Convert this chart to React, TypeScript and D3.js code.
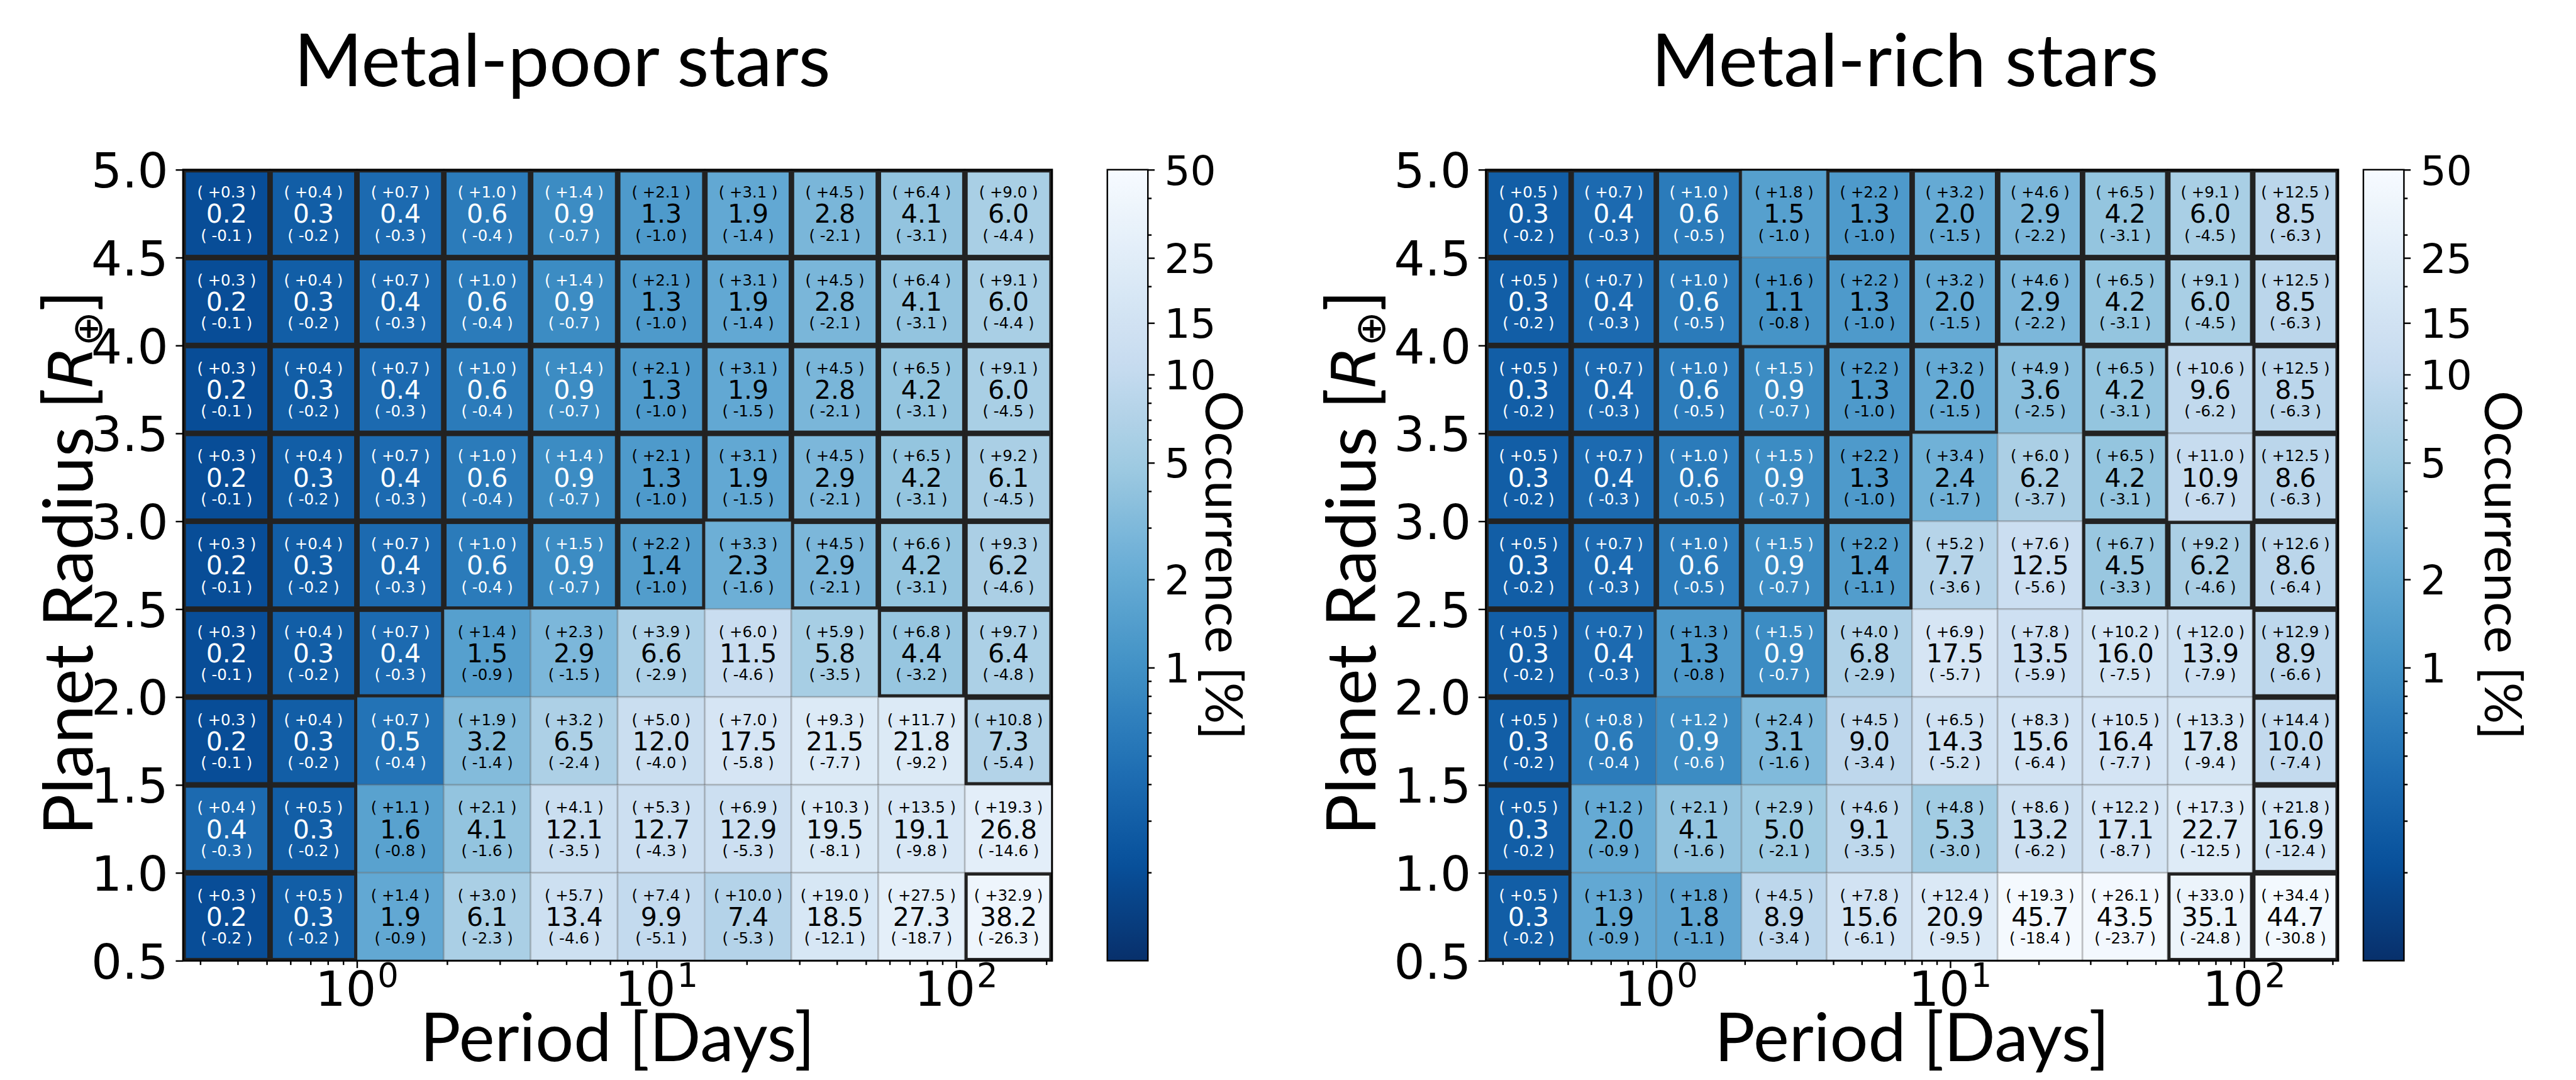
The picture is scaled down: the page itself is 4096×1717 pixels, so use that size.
import React, { useRef, useEffect } from 'react';
import * as d3 from 'd3';

// period bin edges [days] (log spaced) and radius bin edges [R_earth]
const periodEdges = [0.263, 0.513, 1, 1.95, 3.8, 7.42, 14.5, 28.2, 55, 107, 209];
const radiusEdges = [0.5, 1.0, 1.5, 2.0, 2.5, 3.0, 3.5, 4.0, 4.5, 5.0];
const periodMajor = [1, 10, 100];
const periodMajorExp = ['0', '1', '2'];
const periodMinor = [0.3, 0.4, 0.5, 0.6, 0.7, 0.8, 0.9, 2, 3, 4, 5, 6, 7, 8, 9, 20, 30, 40, 50, 60, 70, 80, 90, 200];
const cbarTicks = [1, 2, 5, 10, 15, 25, 50];
const cbarMinor = [0.2, 0.3, 0.4, 0.5, 0.6, 0.7, 0.8, 0.9, 3, 4, 6, 7, 8, 9, 20, 30, 40];

// rows go from the top bin (4.5-5.0) down to the bottom bin (0.5-1.0)
const poorValues = [
  [0.2, 0.3, 0.4, 0.6, 0.9, 1.3, 1.9, 2.8, 4.1, 6.0],
  [0.2, 0.3, 0.4, 0.6, 0.9, 1.3, 1.9, 2.8, 4.1, 6.0],
  [0.2, 0.3, 0.4, 0.6, 0.9, 1.3, 1.9, 2.8, 4.2, 6.0],
  [0.2, 0.3, 0.4, 0.6, 0.9, 1.3, 1.9, 2.9, 4.2, 6.1],
  [0.2, 0.3, 0.4, 0.6, 0.9, 1.4, 2.3, 2.9, 4.2, 6.2],
  [0.2, 0.3, 0.4, 1.5, 2.9, 6.6, 11.5, 5.8, 4.4, 6.4],
  [0.2, 0.3, 0.5, 3.2, 6.5, 12.0, 17.5, 21.5, 21.8, 7.3],
  [0.4, 0.3, 1.6, 4.1, 12.1, 12.7, 12.9, 19.5, 19.1, 26.8],
  [0.2, 0.3, 1.9, 6.1, 13.4, 9.9, 7.4, 18.5, 27.3, 38.2],
];
const poorPlus = [
  [0.3, 0.4, 0.7, 1.0, 1.4, 2.1, 3.1, 4.5, 6.4, 9.0],
  [0.3, 0.4, 0.7, 1.0, 1.4, 2.1, 3.1, 4.5, 6.4, 9.1],
  [0.3, 0.4, 0.7, 1.0, 1.4, 2.1, 3.1, 4.5, 6.5, 9.1],
  [0.3, 0.4, 0.7, 1.0, 1.4, 2.1, 3.1, 4.5, 6.5, 9.2],
  [0.3, 0.4, 0.7, 1.0, 1.5, 2.2, 3.3, 4.5, 6.6, 9.3],
  [0.3, 0.4, 0.7, 1.4, 2.3, 3.9, 6.0, 5.9, 6.8, 9.7],
  [0.3, 0.4, 0.7, 1.9, 3.2, 5.0, 7.0, 9.3, 11.7, 10.8],
  [0.4, 0.5, 1.1, 2.1, 4.1, 5.3, 6.9, 10.3, 13.5, 19.3],
  [0.3, 0.5, 1.4, 3.0, 5.7, 7.4, 10.0, 19.0, 27.5, 32.9],
];
const poorMinus = [
  [0.1, 0.2, 0.3, 0.4, 0.7, 1.0, 1.4, 2.1, 3.1, 4.4],
  [0.1, 0.2, 0.3, 0.4, 0.7, 1.0, 1.4, 2.1, 3.1, 4.4],
  [0.1, 0.2, 0.3, 0.4, 0.7, 1.0, 1.5, 2.1, 3.1, 4.5],
  [0.1, 0.2, 0.3, 0.4, 0.7, 1.0, 1.5, 2.1, 3.1, 4.5],
  [0.1, 0.2, 0.3, 0.4, 0.7, 1.0, 1.6, 2.1, 3.1, 4.6],
  [0.1, 0.2, 0.3, 0.9, 1.5, 2.9, 4.6, 3.5, 3.2, 4.8],
  [0.1, 0.2, 0.4, 1.4, 2.4, 4.0, 5.8, 7.7, 9.2, 5.4],
  [0.3, 0.2, 0.8, 1.6, 3.5, 4.3, 5.3, 8.1, 9.8, 14.6],
  [0.2, 0.2, 0.9, 2.3, 4.6, 5.1, 5.3, 12.1, 18.7, 26.3],
];
// 1 = cell outlined with a thick dark edge
const poorOutlined = [
  '1111111111',
  '1111111111',
  '1111111111',
  '1111111111',
  '1111110111',
  '1110000011',
  '1100000001',
  '1100000000',
  '1100000001',
];

const richValues = [
  [0.3, 0.4, 0.6, 1.5, 1.3, 2.0, 2.9, 4.2, 6.0, 8.5],
  [0.3, 0.4, 0.6, 1.1, 1.3, 2.0, 2.9, 4.2, 6.0, 8.5],
  [0.3, 0.4, 0.6, 0.9, 1.3, 2.0, 3.6, 4.2, 9.6, 8.5],
  [0.3, 0.4, 0.6, 0.9, 1.3, 2.4, 6.2, 4.2, 10.9, 8.6],
  [0.3, 0.4, 0.6, 0.9, 1.4, 7.7, 12.5, 4.5, 6.2, 8.6],
  [0.3, 0.4, 1.3, 0.9, 6.8, 17.5, 13.5, 16.0, 13.9, 8.9],
  [0.3, 0.6, 0.9, 3.1, 9.0, 14.3, 15.6, 16.4, 17.8, 10.0],
  [0.3, 2.0, 4.1, 5.0, 9.1, 5.3, 13.2, 17.1, 22.7, 16.9],
  [0.3, 1.9, 1.8, 8.9, 15.6, 20.9, 45.7, 43.5, 35.1, 44.7],
];
const richPlus = [
  [0.5, 0.7, 1.0, 1.8, 2.2, 3.2, 4.6, 6.5, 9.1, 12.5],
  [0.5, 0.7, 1.0, 1.6, 2.2, 3.2, 4.6, 6.5, 9.1, 12.5],
  [0.5, 0.7, 1.0, 1.5, 2.2, 3.2, 4.9, 6.5, 10.6, 12.5],
  [0.5, 0.7, 1.0, 1.5, 2.2, 3.4, 6.0, 6.5, 11.0, 12.5],
  [0.5, 0.7, 1.0, 1.5, 2.2, 5.2, 7.6, 6.7, 9.2, 12.6],
  [0.5, 0.7, 1.3, 1.5, 4.0, 6.9, 7.8, 10.2, 12.0, 12.9],
  [0.5, 0.8, 1.2, 2.4, 4.5, 6.5, 8.3, 10.5, 13.3, 14.4],
  [0.5, 1.2, 2.1, 2.9, 4.6, 4.8, 8.6, 12.2, 17.3, 21.8],
  [0.5, 1.3, 1.8, 4.5, 7.8, 12.4, 19.3, 26.1, 33.0, 34.4],
];
const richMinus = [
  [0.2, 0.3, 0.5, 1.0, 1.0, 1.5, 2.2, 3.1, 4.5, 6.3],
  [0.2, 0.3, 0.5, 0.8, 1.0, 1.5, 2.2, 3.1, 4.5, 6.3],
  [0.2, 0.3, 0.5, 0.7, 1.0, 1.5, 2.5, 3.1, 6.2, 6.3],
  [0.2, 0.3, 0.5, 0.7, 1.0, 1.7, 3.7, 3.1, 6.7, 6.3],
  [0.2, 0.3, 0.5, 0.7, 1.1, 3.6, 5.6, 3.3, 4.6, 6.4],
  [0.2, 0.3, 0.8, 0.7, 2.9, 5.7, 5.9, 7.5, 7.9, 6.6],
  [0.2, 0.4, 0.6, 1.6, 3.4, 5.2, 6.4, 7.7, 9.4, 7.4],
  [0.2, 0.9, 1.6, 2.1, 3.5, 3.0, 6.2, 8.7, 12.5, 12.4],
  [0.2, 0.9, 1.1, 3.4, 6.1, 9.5, 18.4, 23.7, 24.8, 30.8],
];
const richOutlined = [
  '1110111111',
  '1110111111',
  '1111110101',
  '1111100101',
  '1111100111',
  '1101000001',
  '1000000001',
  '1000000001',
  '1000000011',
];

// matplotlib "Blues" stops
const bluesStops = ['#f7fbff', '#deebf7', '#c6dbef', '#9ecae1', '#6baed6', '#4292c6', '#2171b5', '#08519c', '#08306b'];

const W = 4192;
const H = 1757;
const TOP = 276;
const BOTTOM = 1563;
const TICK_FONT = 'DejaVu Sans, sans-serif';
const LABEL_FONT = 'Lato, Open Sans, sans-serif';

const panels = [
  {
    title: 'Metal-poor stars', values: poorValues, plus: poorPlus, minus: poorMinus, outlined: poorOutlined,
    x0: 298, x1: 1712, titleX: 915, cb0: 1802, cb1: 1868, cbLabelX: 1992, yLabelX: 150,
  },
  {
    title: 'Metal-rich stars', values: richValues, plus: richPlus, minus: richMinus, outlined: richOutlined,
    x0: 2418, x1: 3805, titleX: 3100, cb0: 3846, cb1: 3912, cbLabelX: 4074, yLabelX: 2238,
  },
];

const App = () => {
  const ref = useRef(null);

  useEffect(() => {
    document.body.style.margin = '0';
    const svg = d3.select(ref.current);
    svg.selectAll('*').remove();

    // Blues_r: low values dark, high values white
    const cmap = d3.scaleLinear()
      .domain(d3.range(9).map(i => i / 8))
      .range(bluesStops.slice().reverse())
      .interpolate(d3.interpolateRgb);
    const norm = d3.scaleLog().domain([0.1, 50]).range([0, 1]).clamp(true);
    const color = v => cmap(norm(v));

    // colorbar gradient
    const defs = svg.append('defs');
    const grad = defs.append('linearGradient').attr('id', 'cbgrad')
      .attr('x1', 0).attr('y1', 1).attr('x2', 0).attr('y2', 0);
    d3.range(0, 1.0001, 0.02).forEach(t => {
      grad.append('stop').attr('offset', t).attr('stop-color', cmap(t));
    });

    const y = d3.scaleLinear().domain([0.5, 5]).range([BOTTOM, TOP]);

    panels.forEach(p => {
      const x = d3.scaleLog().domain([periodEdges[0], periodEdges[periodEdges.length - 1]]).range([p.x0, p.x1]);
      const g = svg.append('g');

      const cells = [];
      p.values.forEach((row, r) => {
        row.forEach((v, c) => {
          const ri = radiusEdges.length - 2 - r;
          cells.push({
            v, plus: p.plus[r][c], minus: p.minus[r][c], bold: p.outlined[r][c] === '1',
            xa: x(periodEdges[c]), xb: x(periodEdges[c + 1]),
            ya: y(radiusEdges[ri + 1]), yb: y(radiusEdges[ri]),
          });
        });
      });

      g.selectAll('rect.cell').data(cells).enter().append('rect')
        .attr('class', 'cell')
        .attr('x', d => d.xa).attr('y', d => d.ya)
        .attr('width', d => d.xb - d.xa).attr('height', d => d.yb - d.ya)
        .attr('fill', d => color(d.v))
        .attr('stroke', 'rgba(90,90,90,0.25)').attr('stroke-width', 3);

      g.selectAll('rect.bold').data(cells.filter(d => d.bold)).enter().append('rect')
        .attr('class', 'bold')
        .attr('x', d => d.xa + 2).attr('y', d => d.ya + 2)
        .attr('width', d => d.xb - d.xa - 4).attr('height', d => d.yb - d.ya - 4)
        .attr('fill', 'none').attr('stroke', '#222').attr('stroke-width', 5);

      const txt = g.selectAll('g.txt').data(cells).enter().append('g')
        .attr('class', 'txt')
        .attr('transform', d => `translate(${(d.xa + d.xb) / 2},${(d.ya + d.yb) / 2})`)
        .attr('fill', d => (d.v < 1 ? '#fff' : '#000'))
        .attr('font-family', TICK_FONT)
        .attr('text-anchor', 'middle');
      txt.append('text').attr('y', -35).attr('dy', '0.36em').attr('font-size', 25)
        .text(d => `( +${d.plus.toFixed(1)} )`);
      txt.append('text').attr('y', 0).attr('dy', '0.36em').attr('font-size', 42)
        .text(d => d.v.toFixed(1));
      txt.append('text').attr('y', 35).attr('dy', '0.36em').attr('font-size', 25)
        .text(d => `( -${d.minus.toFixed(1)} )`);

      // spines
      g.append('rect').attr('x', p.x0).attr('y', TOP)
        .attr('width', p.x1 - p.x0).attr('height', BOTTOM - TOP)
        .attr('fill', 'none').attr('stroke', '#000').attr('stroke-width', 3);

      // x axis
      const xMajor = g.append('g').attr('transform', `translate(0,${BOTTOM})`)
        .call(d3.axisBottom(x).tickValues(periodMajor).tickSize(12).tickFormat(() => ''));
      const xMinor = g.append('g').attr('transform', `translate(0,${BOTTOM})`)
        .call(d3.axisBottom(x).tickValues(periodMinor.filter(v => v > periodEdges[0] && v < periodEdges[10])).tickSize(7).tickFormat(() => ''));
      [xMajor, xMinor].forEach(a => {
        a.select('.domain').remove();
        a.selectAll('line').attr('stroke', '#000').attr('stroke-width', 2.5);
      });
      periodMajor.forEach((t, i) => {
        const lab = g.append('text').attr('x', x(t)).attr('y', 1636)
          .attr('font-family', TICK_FONT).attr('font-size', 78).attr('text-anchor', 'middle');
        lab.append('tspan').text('10');
        lab.append('tspan').attr('dy', -30).attr('dx', 2).attr('font-size', 54).text(periodMajorExp[i]);
      });

      // y axis
      const yAx = g.append('g').attr('transform', `translate(${p.x0},0)`)
        .call(d3.axisLeft(y).tickValues(radiusEdges).tickSize(12).tickPadding(12).tickFormat(d3.format('.1f')));
      yAx.select('.domain').remove();
      yAx.selectAll('line').attr('stroke', '#000').attr('stroke-width', 2.5);
      yAx.selectAll('text').attr('font-family', TICK_FONT).attr('font-size', 79).attr('fill', '#000').attr('dy', '0.36em');

      // titles and labels
      g.append('text').attr('x', p.titleX).attr('y', 140)
        .attr('font-family', LABEL_FONT).attr('font-size', 120).attr('text-anchor', 'middle')
        .text(p.title);
      g.append('text').attr('x', (p.x0 + p.x1) / 2).attr('y', 1726)
        .attr('font-family', LABEL_FONT).attr('font-size', 110).attr('text-anchor', 'middle')
        .text('Period [Days]');
      const yl = g.append('text')
        .attr('transform', `translate(${p.yLabelX},${(TOP + BOTTOM) / 2 - 4}) rotate(-90)`)
        .attr('font-family', LABEL_FONT).attr('font-size', 112).attr('text-anchor', 'middle');
      yl.append('tspan').text('Planet Radius [');
      yl.append('tspan').attr('font-family', TICK_FONT).attr('font-style', 'italic').attr('font-size', 98).text('R');
      yl.append('tspan').attr('font-family', TICK_FONT).attr('font-size', 68).attr('dy', 16).text('⊕');
      yl.append('tspan').attr('dy', -16).text(']');

      // colorbar
      const cs = d3.scaleLog().domain([0.1, 50]).range([BOTTOM, TOP]);
      g.append('rect').attr('x', p.cb0).attr('y', TOP)
        .attr('width', p.cb1 - p.cb0).attr('height', BOTTOM - TOP)
        .attr('fill', 'url(#cbgrad)').attr('stroke', '#000').attr('stroke-width', 2.5);
      const cMaj = g.append('g').attr('transform', `translate(${p.cb1},0)`)
        .call(d3.axisRight(cs).tickValues(cbarTicks).tickSize(11).tickPadding(16).tickFormat(d3.format('d')));
      const cMin = g.append('g').attr('transform', `translate(${p.cb1},0)`)
        .call(d3.axisRight(cs).tickValues(cbarMinor).tickSize(6).tickFormat(() => ''));
      [cMaj, cMin].forEach(a => {
        a.select('.domain').remove();
        a.selectAll('line').attr('stroke', '#000').attr('stroke-width', 2.5);
      });
      cMaj.selectAll('text').attr('font-family', TICK_FONT).attr('font-size', 66).attr('fill', '#000').attr('dy', '0.36em');
      g.append('text')
        .attr('transform', `translate(${p.cbLabelX},${(TOP + BOTTOM) / 2}) rotate(90)`)
        .attr('font-family', LABEL_FONT).attr('font-size', 84).attr('text-anchor', 'middle').attr('dy', '0.36em')
        .text('Occurrence [%]');
    });
  }, []);

  return (
    <svg ref={ref} width={4096} height={1717} viewBox={`0 0 ${W} ${H}`}
      style={{ display: 'block', background: '#fff' }} />
  );
};

export default App;
